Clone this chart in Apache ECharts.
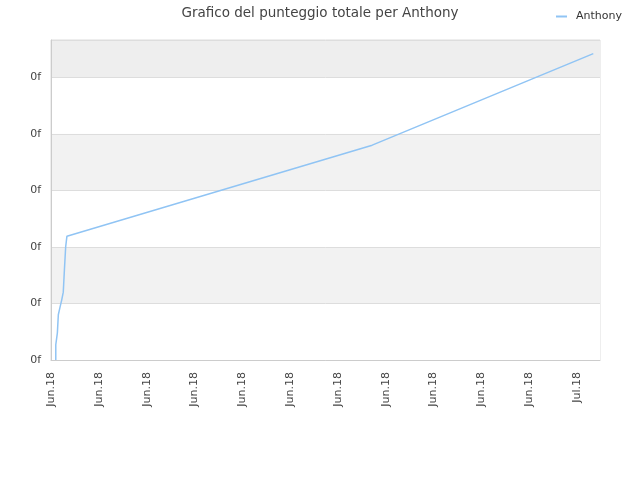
<!DOCTYPE html>
<html>
<head>
<meta charset="utf-8">
<script src="https://cdn.jsdelivr.net/npm/echarts@6/dist/echarts.min.js"></script>
<style>
  html, body { margin: 0; padding: 0; background: #fff; }
  #grafico { width: 640px; height: 480px; }
</style>
</head>
<body>
<div id="grafico"></div>
<script>
// giorni dall'inizio dell'asse (tick ogni 3 giorni)
const giorni = [0.30, 0.30, 0.40, 0.46, 0.57, 0.67, 0.77, 0.84, 0.92, 1.00, 20.15, 34.02];
// punteggio totale
const punteggi = [0, 0.27, 0.48, 0.80, 0.94, 1.06, 1.20, 1.59, 2.00, 2.19, 3.80, 5.42];
const nomeSerie = "Anthony";
const etichettaGiugno = "Jun.18";
const etichettaLuglio = "Jul.18";
const etichettaY = "0f";

var chartDom = document.getElementById('grafico');
var myChart = echarts.init(chartDom);

var punti = [];
for (var i = 0; i < giorni.length; i++) {
    punti.push([giorni[i], punteggi[i]]);
}

var option = {
    animation: false,
    backgroundColor: '#fff',
    textStyle: { fontFamily: 'DejaVu Sans' },
    title: {
        text: 'Grafico del punteggio totale per Anthony',
        left: 'center',
        top: 1,
        textStyle: { fontSize: 13.5, fontWeight: 'normal', color: '#444', fontFamily: 'DejaVu Sans' }
    },
    legend: {
        data: [nomeSerie],
        right: 13,
        top: 6,
        itemWidth: 11,
        itemHeight: 2,
        icon: 'rect',
        textStyle: { fontSize: 11, color: '#333', padding: [0, 0, 0, 4] }
    },
    grid: {
        left: 51,
        right: 40,
        top: 40,
        bottom: 120,
        show: true,
        borderColor: '#dddddd',
        borderWidth: 1,
        backgroundColor: 'transparent'
    },
    xAxis: {
        type: 'value',
        min: 0,
        max: 34.44,
        interval: 3,
        axisLine: { show: true, lineStyle: { color: '#cccccc' } },
        axisTick: { show: false },
        splitLine: { show: false },
        axisLabel: {
            rotate: 90,
            fontSize: 11,
            color: '#444',
            margin: 12,
            showMaxLabel: false,
            formatter: function (v) {
                return v >= 32 ? etichettaLuglio : etichettaGiugno;
            }
        }
    },
    yAxis: {
        type: 'value',
        min: 0,
        max: 5.66,
        interval: 1,
        axisLine: { show: true, lineStyle: { color: '#cccccc' } },
        axisTick: { show: false },
        splitLine: { show: true, lineStyle: { color: '#dddddd' } },
        splitArea: {
            show: true,
            areaStyle: { color: ['#ffffff', '#f2f2f2', '#ffffff', '#f2f2f2', '#ffffff', '#eeeeee'] }
        },
        axisLabel: {
            fontSize: 11,
            color: '#444',
            margin: 10,
            showMaxLabel: false,
            formatter: function () { return etichettaY; }
        }
    },
    series: [
        {
            name: nomeSerie,
            type: 'line',
            data: punti,
            showSymbol: false,
            symbol: 'none',
            lineStyle: { color: '#90c4f4', width: 1.5 },
            itemStyle: { color: '#90c4f4' }
        }
    ]
};
option && myChart.setOption(option);
</script>
</body>
</html>
